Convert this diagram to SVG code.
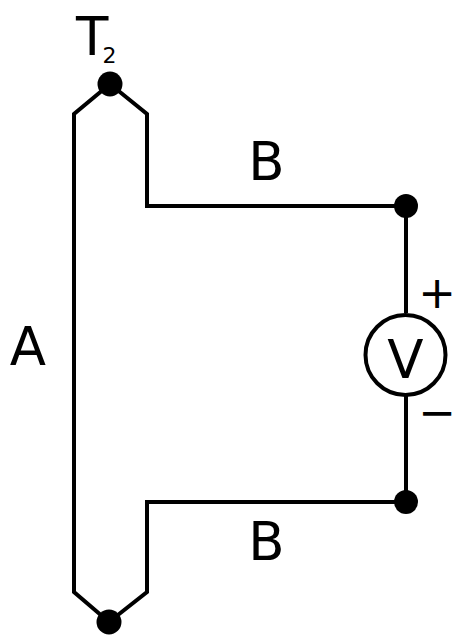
<svg xmlns="http://www.w3.org/2000/svg" width="468" height="638" viewBox="0 0 468 638">
<style>
.w{fill:none;stroke:#000;stroke-width:4}
.d{fill:#000}
text{font-family:"DejaVu Sans",sans-serif;fill:#000}
.l{font-size:53px}
.s{font-size:45px}
</style>
<rect width="468" height="638" fill="#fff"/>
<g id="connectors">
<path class="w" d="M110 84L74 114V592L109 622L147 592V502H406"/>
<path class="w" d="M110 84L147 114V206H406"/>
<path class="w" d="M406 206V313M406 396V502"/>
</g>
<g id="t2"><circle class="d" cx="110" cy="84" r="12.5"/><text class="l" x="76" y="55">T<tspan dx="-6" dy="8" font-size="22">2</tspan></text></g>
<g id="t1"><circle class="d" cx="109" cy="622" r="12.5"/></g>
<g id="n1"><circle class="d" cx="406" cy="206" r="12"/></g>
<g id="n2"><circle class="d" cx="406" cy="502" r="12"/></g>
<g id="meter"><circle cx="405.5" cy="355" r="40" fill="#fff" stroke="#000" stroke-width="4"/><text class="l" x="405.5" y="378" text-anchor="middle">V</text></g>
<g id="labels">
<text class="l" x="266.5" y="180" text-anchor="middle">B</text>
<text class="l" x="266.5" y="560" text-anchor="middle">B</text>
<text class="l" x="28" y="365" text-anchor="middle">A</text>
<text class="s" x="437" y="308" text-anchor="middle">+</text>
<text class="s" x="437" y="428" text-anchor="middle">−</text>
</g>
</svg>
